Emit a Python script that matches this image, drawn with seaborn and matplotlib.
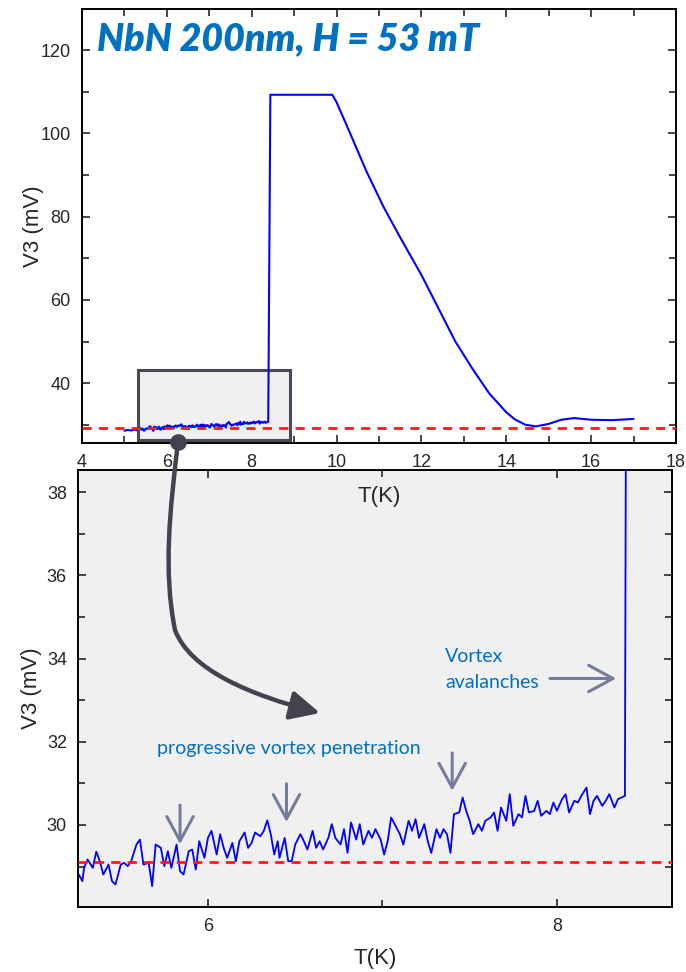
import matplotlib
matplotlib.use('Agg')
import matplotlib.pyplot as plt
import seaborn as sns
from matplotlib.patches import Rectangle, FancyArrowPatch
from matplotlib.path import Path
from matplotlib.ticker import MultipleLocator

# V3 vs T, low temperature part
t_low = [5.00, 5.08, 5.16, 5.22,
         5.26, 5.28, 5.29, 5.31, 5.34, 5.36, 5.38, 5.40, 5.43, 5.45,
         5.47, 5.50, 5.52, 5.54, 5.56, 5.59, 5.61, 5.63, 5.66, 5.68,
         5.70, 5.73, 5.75, 5.77, 5.79, 5.82, 5.84, 5.86, 5.89, 5.91,
         5.93, 5.95, 5.98, 6.00, 6.02, 6.05, 6.07, 6.09, 6.11, 6.14,
         6.16, 6.18, 6.21, 6.23, 6.25, 6.27, 6.30, 6.32, 6.34, 6.36,
         6.38, 6.40, 6.41, 6.44, 6.46, 6.48, 6.50, 6.53, 6.55, 6.57,
         6.60, 6.62, 6.64, 6.66, 6.69, 6.71, 6.73, 6.76, 6.78, 6.80,
         6.82, 6.85, 6.87, 6.89, 6.92, 6.94, 6.96, 6.99, 7.01, 7.03,
         7.05, 7.08, 7.10, 7.12, 7.15, 7.17, 7.19, 7.21, 7.24, 7.26,
         7.28, 7.31, 7.33, 7.35, 7.37, 7.39, 7.41, 7.44, 7.46, 7.48,
         7.50, 7.52, 7.55, 7.57, 7.59, 7.62, 7.64, 7.66, 7.68, 7.71,
         7.73, 7.75, 7.78, 7.80, 7.82, 7.84, 7.87, 7.89, 7.91, 7.94,
         7.96, 7.98, 8.00, 8.03, 8.05, 8.07, 8.10, 8.12, 8.14, 8.17,
         8.19, 8.21, 8.23, 8.26, 8.28, 8.30, 8.33, 8.35, 8.37]
v_low = [28.55, 28.75, 28.60, 28.85,
         28.81, 28.65, 28.97, 29.17, 28.97, 29.36, 29.13, 28.81, 29.05, 28.65,
         28.57, 29.05, 29.09, 29.01, 29.13, 29.53, 29.65, 29.05, 29.09, 28.53,
         29.53, 29.45, 29.01, 29.37, 28.97, 29.53, 28.89, 28.81, 29.37, 29.41,
         28.93, 29.61, 29.21, 29.69, 29.86, 29.29, 29.78, 29.45, 29.21, 29.57,
         29.13, 29.61, 29.82, 29.45, 29.57, 29.82, 29.73, 29.86, 30.11, 29.78,
         29.29, 29.61, 29.21, 29.69, 29.13, 29.13, 29.53, 29.78, 29.61, 29.41,
         29.86, 29.45, 29.61, 29.41, 29.69, 30.02, 29.69, 29.53, 29.90, 29.33,
         30.06, 29.65, 30.02, 29.53, 29.86, 29.69, 29.90, 29.65, 29.29, 29.61,
         30.18, 29.94, 29.78, 29.53, 30.10, 29.86, 30.14, 29.69, 30.02, 29.61,
         29.33, 29.90, 29.69, 29.90, 29.78, 29.33, 30.26, 30.30, 30.66, 30.34,
         30.10, 29.78, 30.02, 29.86, 30.10, 30.18, 30.30, 29.86, 30.42, 30.10,
         30.74, 29.98, 30.26, 30.18, 30.70, 30.30, 30.34, 30.58, 30.22, 30.34,
         30.26, 30.54, 30.34, 30.62, 30.74, 30.30, 30.58, 30.54, 30.70, 30.90,
         30.26, 30.58, 30.70, 30.46, 30.58, 30.74, 30.42, 30.62, 30.66]

# jump, saturation and normal-state part
t_high = [8.39, 8.44, 9.90, 10.00, 10.30, 10.70, 11.10, 11.50, 12.00, 12.40,
          12.80, 13.20, 13.60, 14.00, 14.20, 14.45, 14.70, 15.00, 15.30,
          15.60, 16.00, 16.50, 17.00]
v_high = [30.70, 109.3, 109.3, 107.5, 100.5, 91.0, 82.5, 75.0, 66.0, 58.0,
          50.0, 43.5, 37.5, 33.0, 31.3, 30.0, 29.6, 30.2, 31.2,
          31.6, 31.2, 31.1, 31.4]

baseline = 29.1

T = t_low + t_high
V = v_low + v_high

sns.set_style('ticks')
plt.rcParams['font.family'] = ['Liberation Sans', 'DejaVu Sans']

blue_txt = '#0070C0'
gray_arrow = '#767c9c'
dark = '#43434f'

fig = plt.figure(figsize=(6.86, 9.72), dpi=100)
ax_top = fig.add_axes([0.1195, 0.5442, 0.8659, 0.4465])
ax_bot = fig.add_axes([0.1137, 0.0669, 0.8659, 0.4496])
ax_top.set_zorder(2)


def style_axes(ax):
    for s in ax.spines.values():
        s.set_linewidth(1.4)
        s.set_color('black')
    ax.tick_params(which='both', direction='in', top=True, right=True,
                   width=1.2, labelsize=13, pad=8)
    ax.tick_params(which='major', length=6)
    ax.tick_params(which='minor', length=5)


# ---- top panel: full transition ----
ax_top.add_patch(Rectangle((5.32, 26.3), 3.58, 16.8, facecolor='#f0f0f0',
                           edgecolor='#4a4a56', lw=2.2, zorder=1))
sns.lineplot(x=T, y=V, ax=ax_top, color='#0000ff', lw=1.5,
             estimator=None, sort=False, zorder=3)
ax_top.axhline(baseline, color='#ff1a1a', lw=2, dashes=(3.3, 2.6), zorder=4)
ax_top.set_xlim(4, 18)
ax_top.set_ylim(25.6, 129.9)
ax_top.xaxis.set_major_locator(MultipleLocator(2))
ax_top.xaxis.set_minor_locator(MultipleLocator(1))
ax_top.yaxis.set_major_locator(MultipleLocator(20))
ax_top.yaxis.set_minor_locator(MultipleLocator(10))
style_axes(ax_top)
ax_top.set_xlabel('T(K)', fontsize=16)
ax_top.set_ylabel('V3 (mV)', fontsize=16)
ax_top.xaxis.set_label_coords(0.5, -0.098)
ax_top.yaxis.set_label_coords(-0.064, 0.5)
ax_top.text(4.35, 122.6, 'NbN 200nm, H = 53 mT', color=blue_txt,
            fontsize=27, fontweight='heavy', fontstyle='italic',
            family=['Lato', 'DejaVu Sans'], va='center', ha='left')
ax_top.plot([6.26], [25.8], 'o', color=dark, ms=11, clip_on=False, zorder=6)

# ---- bottom panel: zoom on the low temperature region ----
ax_bot.set_facecolor('#f0f0f0')
sns.lineplot(x=T, y=V, ax=ax_bot, color='#0000ff', lw=1.3,
             estimator=None, sort=False, zorder=3)
ax_bot.axhline(baseline, color='#ff1a1a', lw=2, dashes=(3.3, 2.6), zorder=4)
ax_bot.set_xlim(5.255, 8.66)
ax_bot.set_ylim(28.03, 38.53)
ax_bot.xaxis.set_major_locator(MultipleLocator(2))
ax_bot.xaxis.set_minor_locator(MultipleLocator(1))
ax_bot.yaxis.set_major_locator(MultipleLocator(2))
ax_bot.yaxis.set_minor_locator(MultipleLocator(1))
style_axes(ax_bot)
ax_bot.set_xlabel('T(K)', fontsize=16)
ax_bot.set_ylabel('V3 (mV)', fontsize=16)
ax_bot.xaxis.set_label_coords(0.5, -0.095)
ax_bot.yaxis.set_label_coords(-0.06, 0.5)

txt_kw = dict(color=blue_txt, fontsize=14, family=['Lato', 'DejaVu Sans'],
              va='center', ha='left')
ax_bot.text(5.71, 31.83, 'progressive vortex penetration', **txt_kw)
ax_bot.text(7.36, 34.05, 'Vortex', **txt_kw)
ax_bot.text(7.36, 33.42, 'avalanches', **txt_kw)

arr_kw = dict(arrowstyle='->,head_length=0.7,head_width=0.38',
              color=gray_arrow, lw=2.2, mutation_scale=25,
              shrinkA=0, shrinkB=0)
for tx, y0, y1 in [(5.84, 30.48, 29.54), (6.45, 30.99, 30.07),
                   (7.40, 31.73, 30.82)]:
    ax_bot.annotate('', xy=(tx, y1), xytext=(tx, y0), arrowprops=arr_kw)
ax_bot.annotate('', xy=(8.34, 33.52), xytext=(7.96, 33.52), arrowprops=arr_kw)


# big curved arrow from the zoom box to the lower panel (figure pixels)
def fpx(x, y):
    return (x / 686, 1 - y / 972)


verts = [fpx(178, 442), fpx(170, 510), fpx(163, 570), fpx(175, 630),
         fpx(190, 670), fpx(250, 695), fpx(320, 713)]
codes = [Path.MOVETO, Path.CURVE4, Path.CURVE4, Path.CURVE4,
         Path.CURVE4, Path.CURVE4, Path.CURVE4]
big = FancyArrowPatch(path=Path(verts, codes),
                      arrowstyle='-|>,head_length=0.45,head_width=0.22',
                      mutation_scale=40, color=dark, lw=3.2,
                      transform=fig.transFigure, zorder=10)
fig.add_artist(big)

fig.savefig('out.png', dpi=100)
